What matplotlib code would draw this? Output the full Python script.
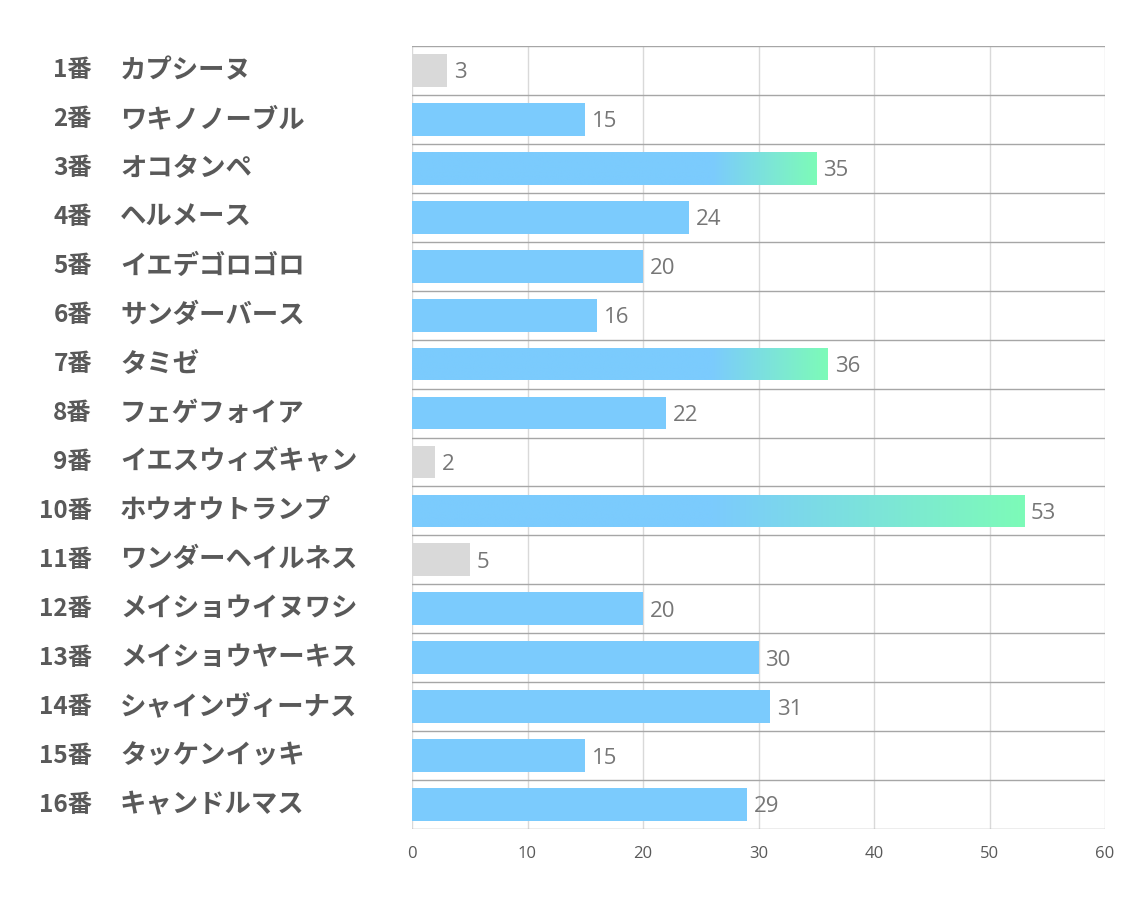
import numpy as np
import matplotlib
matplotlib.use("Agg")
import matplotlib.pyplot as plt
from matplotlib.colors import LinearSegmentedColormap
from matplotlib.transforms import blended_transform_factory

plt.rcParams["font.family"] = ["Noto Sans CJK JP", "DejaVu Sans"]

# ---- data ----
numbers = [f"{i}番" for i in range(1, 17)]
names = ["カプシーヌ", "ワキノノーブル", "オコタンペ", "ヘルメース", "イエデゴロゴロ",
         "サンダーバース", "タミゼ", "フェゲフォイア", "イエスウィズキャン",
         "ホウオウトランプ", "ワンダーヘイルネス", "メイショウイヌワシ",
         "メイショウヤーキス", "シャインヴィーナス", "タッケンイッキ", "キャンドルマス"]
values = [3, 15, 35, 24, 20, 16, 36, 22, 2, 53, 5, 20, 30, 31, 15, 29]
xticks = [0, 10, 20, 30, 40, 50, 60]

BLUE = "#7bcbfd"
GREEN = "#7dfbb8"
GRAY = "#d9d9d9"
TXT = "#595959"
VAL = "#767676"

fig = plt.figure(figsize=(11.34, 9.07), dpi=100)
ax = fig.add_axes([412 / 1134, 1 - 829 / 907, (1105 - 412) / 1134, (829 - 46) / 907])

n = len(values)
y = np.arange(n)
h = 0.67
colors = [GRAY if v < 10 else BLUE for v in values]
bars = ax.barh(y, values, height=h, color=colors, zorder=3)

# gradient overlay for the top bars
cmap = LinearSegmentedColormap.from_list("bg", [BLUE, GREEN])
g0 = 26
for b, v in zip(bars, values):
    if v >= 35:
        xs = np.linspace(0, v, 400)
        t = np.clip((xs - g0) / (v - g0), 0, 1)[None, :]
        im = ax.imshow(t, cmap=cmap, aspect="auto", vmin=0, vmax=1,
                       extent=[0, v, b.get_y() + h, b.get_y()], zorder=4)
        im.set_clip_path(b)

for yi, v in zip(y, values):
    ax.text(v + 0.6, yi + 0.05, str(v), color=VAL, fontsize=16, va="center",
            ha="left", family=["Open Sans", "DejaVu Sans"], zorder=5)

ax.set_xlim(0, 60)
ax.set_ylim(n - 0.5, -0.5)
ax.set_xticks(xticks)
ax.set_yticks([])
ax.tick_params(axis="x", length=0, pad=12, labelsize=12, labelcolor=TXT)
for lab in ax.get_xticklabels():
    lab.set_family(["Open Sans", "DejaVu Sans"])
for xv in xticks:
    ax.axvline(xv, color="#d9d9d9", lw=1, zorder=1)
for yb in np.arange(n + 1) - 0.5:
    ax.axhline(yb, color="#a6a6a6", lw=1, zorder=2)
for s in ax.spines.values():
    s.set_visible(False)

tr = blended_transform_factory(fig.transFigure, ax.transData)
for yi, num, nm in zip(y, numbers, names):
    ax.text(92 / 1134, yi, num, transform=tr, ha="right", va="center",
            fontsize=17.5, fontweight="bold", color=TXT)
    ax.text(120 / 1134, yi, nm, transform=tr, ha="left", va="center",
            fontsize=19, fontweight="bold", color=TXT)

fig.savefig("out.png", dpi=100, facecolor="white")
